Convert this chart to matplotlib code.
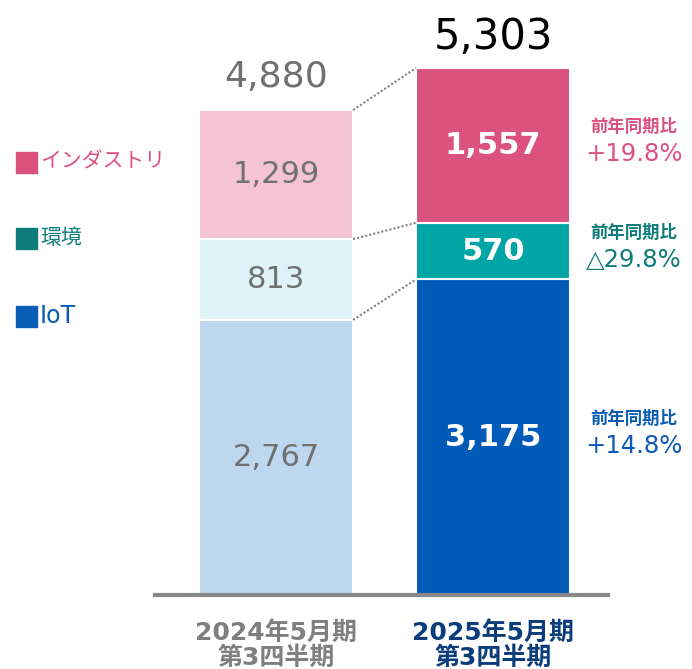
import numpy as np
import matplotlib.pyplot as plt
from matplotlib.patches import Rectangle

plt.rcParams['font.family'] = ['DejaVu Sans', 'Noto Sans CJK JP']

# data
periods = ["2024年5月期\n第3四半期", "2025年5月期\n第3四半期"]
segments = ["IoT", "環境", "インダストリ"]
iot = [2767, 3175]
env = [813, 570]
ind = [1299, 1557]
totals = [4880, 5303]
yoy = ["+14.8%", "△29.8%", "+19.8%"]

# colours: [previous year, current year] per segment
seg_colors = {
    "IoT": ["#BDD7EE", "#005BB8"],
    "環境": ["#DDF3F8", "#00A5A5"],
    "インダストリ": ["#F4C3D4", "#DC527E"],
}
legend_colors = {"IoT": "#0A5BB5", "環境": "#0E7C7B", "インダストリ": "#DC527E"}

fig = plt.figure(figsize=(6.92, 6.69), dpi=100)
ax = fig.add_axes([155 / 692, 74 / 669, 453 / 692, 595 / 669])

x = np.arange(len(periods))
w = 0.71
values = {"IoT": iot, "環境": env, "インダストリ": ind}
bottom = np.zeros(2)
tops = []
for seg in segments:
    v = np.array(values[seg])
    ax.bar(x, v, w, bottom=bottom, color=seg_colors[seg],
           edgecolor="white", linewidth=1.5)
    for i in range(2):
        col = "#707070" if i == 0 else "white"
        wt = "normal" if i == 0 else "bold"
        ax.text(x[i], bottom[i] + v[i] / 2, f"{v[i]:,}", ha="center", va="center",
                fontsize=22, color=col, fontweight=wt)
    bottom = bottom + v
    tops.append(bottom.copy())

# dotted connectors between the bars
for t in tops:
    ax.plot([x[0] + w / 2, x[1] - w / 2], [t[0], t[1]], color="#808080",
            linestyle=(0, (1, 1)), linewidth=1.5)

# totals
ax.text(x[0], totals[0] + 230, f"{totals[0]:,}", ha="center", va="baseline",
        fontsize=26, color="#707070")
ax.text(x[1], totals[1] + 190, f"{totals[1]:,}", ha="center", va="baseline",
        fontsize=30, color="black")

# year-on-year notes
yoy_y = [iot[1] / 2, iot[1] + env[1] / 2, iot[1] + env[1] + ind[1] / 2]
for seg, txt, yy in zip(segments, yoy, yoy_y):
    c = legend_colors[seg]
    ax.text(1.65, yy + 90, "前年同期比", ha="center", va="bottom",
            fontsize=12.5, color=c, fontweight="bold")
    ax.text(1.65, yy + 30, txt, ha="center", va="top",
            fontsize=17.5, color=c)

ax.set_xlim(-0.558, 1.53)
ax.set_ylim(0, 5986)
ax.set_xticks([])
ax.set_yticks([])
for s in ["top", "right", "left"]:
    ax.spines[s].set_visible(False)
ax.spines["bottom"].set_color("#888888")
ax.spines["bottom"].set_linewidth(3)

# period labels
tick_cols = ["#7F7F7F", "#0B3D7C"]
for i, p in enumerate(periods):
    ax.text(x[i], -260, p, ha="center", va="top", fontsize=18,
            color=tick_cols[i], fontweight="bold", linespacing=1.08,
            clip_on=False)

# legend
leg_y = {"インダストリ": 162, "環境": 238, "IoT": 316}
for seg in ["インダストリ", "環境", "IoT"]:
    yf = 1 - leg_y[seg] / 669
    fig.patches.append(Rectangle((16 / 692, yf - 10.5 / 669), 21 / 692, 21 / 669,
                                 transform=fig.transFigure,
                                 color=legend_colors[seg]))
    fs = 17 if seg == "IoT" else 15
    fig.text(40 / 692, yf, seg, ha="left", va="center",
             fontsize=fs, color=legend_colors[seg])

fig.savefig("out.png", dpi=100)
